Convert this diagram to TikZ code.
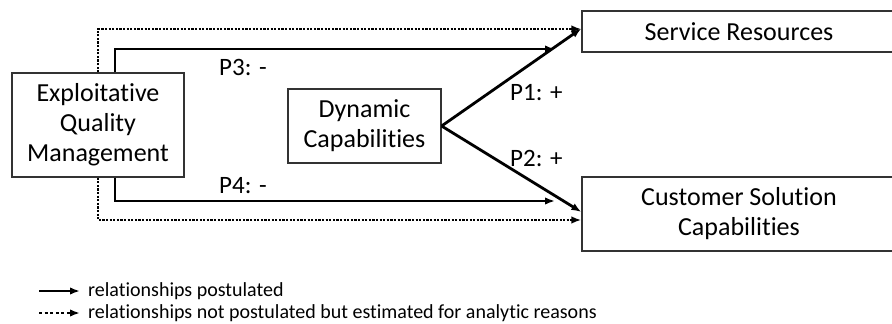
\documentclass[tikz,border=0pt]{standalone}
\usepackage{fontspec}
\setmainfont{Carlito}[Ligatures = NoCommon]
\usetikzlibrary{arrows.meta}

\begin{document}
\begin{tikzpicture}[x=1pt, y=-1pt]

  \tikzstyle{construct}=[draw = black!80, line width = 1.2pt, align = center, inner sep = 0pt, font = \fontsize{26}{30}\selectfont]
  \tikzstyle{plabel}=[anchor = west, inner sep = 0pt, font = \fontsize{25}{30}\selectfont]
  \tikzstyle{legend}=[anchor = west, inner sep = 0pt, font = \fontsize{20}{24}\selectfont]
  \tikzstyle{connect}=[-{Latex[length = 10pt, width = 7.5pt]}, line width = 2.8pt]
  \tikzstyle{estimated}=[connect, line width = 2.6pt, dash pattern = on 2.2pt off 1.4pt]

  \useasboundingbox (0,0) rectangle (892,324);

  \node[construct, minimum width = 172, minimum height = 104] (eqm) at (98,125) {Exploitative\\Quality\\Management};
  \node[construct, minimum width = 153, minimum height = 74] (dc) at (364.5,126) {Dynamic\\Capabilities};
  \node[construct, minimum width = 314, minimum height = 41] (sr) at (739,31.5) {Service Resources};
  \node[construct, minimum width = 314, minimum height = 74] (csc) at (739,214) {Customer Solution\\Capabilities};

  \coordinate (p3end) at (555,49);
  \coordinate (p4end) at (555,201);

  \path (dc.east) edge [connect] ([yshift = 3pt]sr.west)
        (dc.east) edge [connect] ([yshift = 2pt]csc.west);
  \draw[connect] ([xshift = 17pt]eqm.north) |- (p3end);
  \draw[connect] ([xshift = 17pt]eqm.south) |- (p4end);
  \draw[estimated] (eqm.north) |- ([yshift = 2.5pt]sr.west);
  \draw[estimated] (eqm.south) |- ([yshift = -6pt]csc.west);

  \node[plabel] (p3) at (219,67) {P3: -};
  \node[plabel] (p4) at (219,186) {P4: -};
  \node[plabel] (p1) at (510,93) {P1: +};
  \node[plabel] (p2) at (510,158) {P2: +};

  % legend
  \node[legend] (postulated) at (88,291) {relationships postulated};
  \node[legend] (notpostulated) at (88,313) {relationships not postulated but estimated for analytic reasons};
  \coordinate (leg1) at (39,291);
  \coordinate (leg2) at (39,313);
  \draw[connect, line width = 2.2pt] (leg1) -- ([xshift = -8pt]postulated.west);
  \draw[estimated, line width = 2.4pt, dash pattern = on 3pt off 2.6pt] (leg2) -- ([xshift = -8pt]notpostulated.west);

\end{tikzpicture}
\end{document}
